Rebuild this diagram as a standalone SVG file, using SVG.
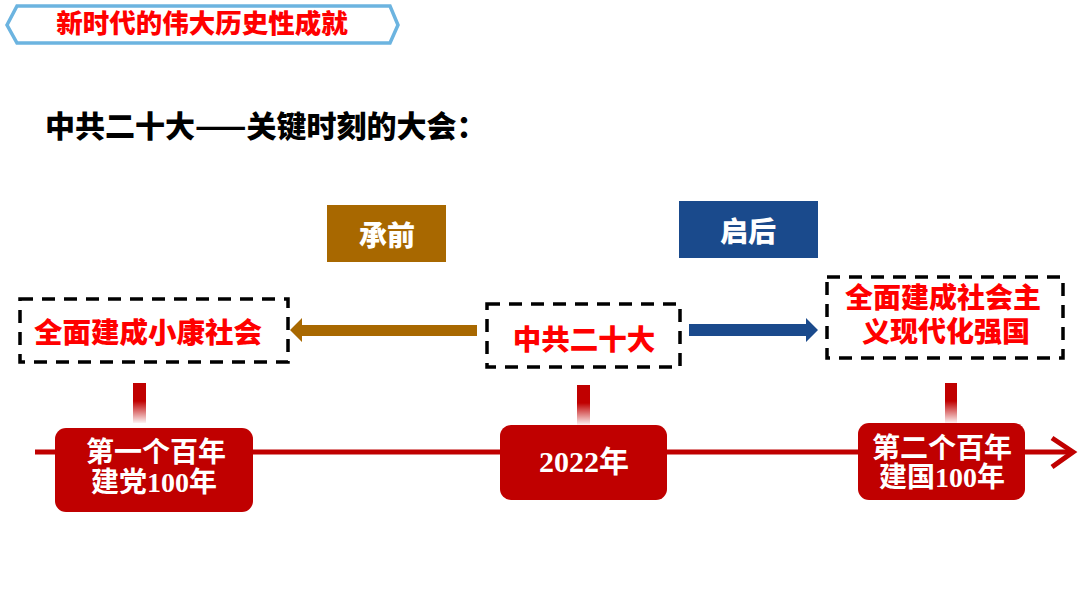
<svg xmlns="http://www.w3.org/2000/svg" width="1080" height="608" viewBox="0 0 1080 608">
<defs>
<linearGradient id="stemGrad" x1="0" y1="0" x2="0" y2="1">
<stop offset="0" stop-color="#c00000"/>
<stop offset="0.45" stop-color="#c00000"/>
<stop offset="1" stop-color="#c00000" stop-opacity="0.05"/>
</linearGradient>
<style>
.cjk{font-family:"Noto Sans CJK SC","Noto Sans",sans-serif;font-weight:900;}
.ser{font-family:"Liberation Serif","Noto Sans CJK SC",serif;font-weight:bold;}
.dash{fill:none;stroke:#000;stroke-width:3.5;stroke-dasharray:13 9;}
.red{fill:#ff0000;}
.wht{fill:#ffffff;}
.rbox{fill:#c00000;}
.stem{fill:url(#stemGrad);}
</style>
</defs>
<rect width="1080" height="608" fill="#ffffff"/>

<g id="title">
<polygon points="7,25 17,6 390,6 398,25 390,43 17,43" fill="#ffffff" stroke="#6cb4e0" stroke-width="3.5"/>
<text class="cjk red" x="202" y="33" font-size="26.5" text-anchor="middle">新时代的伟大历史性成就</text>
</g>

<g id="heading">
<text class="cjk" x="45" y="137" font-size="30" fill="#000">中共二十大——关键时刻的大会：</text>
</g>

<g id="label-chengqian">
<rect x="327" y="205" width="119" height="57" fill="#a86800"/>
<text class="cjk wht" x="387" y="246" font-size="28" text-anchor="middle">承前</text>
</g>

<g id="label-qihou">
<rect x="679" y="201" width="139" height="57" fill="#1a4a8c"/>
<text class="cjk wht" x="748" y="242" font-size="28" text-anchor="middle">启后</text>
</g>

<g id="connectors">
<polygon points="290,330 302,318 302,325 477,325 477,336 302,336 302,342" fill="#a86800"/>
<polygon points="689,324 806,324 806,318 818,330 806,342 806,336 689,336" fill="#1a4a8c"/>
<line x1="35" y1="452" x2="1072" y2="452" stroke="#c00000" stroke-width="5"/>
<polyline points="1052,438 1073,452 1052,467" fill="none" stroke="#c00000" stroke-width="5" stroke-linejoin="miter"/>
<rect class="stem" x="133" y="383" width="13" height="40"/>
<rect class="stem" x="577" y="385" width="13" height="40"/>
<rect class="stem" x="945" y="383" width="12" height="40"/>
</g>

<g id="node-xiaokang">
<rect class="dash" x="20" y="299" width="268" height="63"/>
<text class="cjk red" x="148" y="343" font-size="28.5" text-anchor="middle">全面建成小康社会</text>
</g>

<g id="node-ershida">
<rect class="dash" x="487" y="304" width="193" height="63"/>
<text class="cjk red" x="584" y="350" font-size="28.5" text-anchor="middle">中共二十大</text>
</g>

<g id="node-qiangguo">
<rect class="dash" x="827" y="277" width="236" height="81"/>
<text class="cjk red" x="943" y="308" font-size="28" text-anchor="middle">全面建成社会主</text>
<text class="cjk red" x="946" y="342" font-size="28" text-anchor="middle">义现代化强国</text>
</g>

<g id="node-first">
<rect class="rbox" x="55" y="428" width="198" height="84" rx="11"/>
<text class="ser wht" x="156" y="462" font-size="28" text-anchor="middle">第一个百年</text>
<text class="ser wht" x="154" y="492" font-size="28" text-anchor="middle">建党100年</text>
</g>

<g id="node-2022">
<rect class="rbox" x="500" y="425" width="167" height="75" rx="11"/>
<text class="ser wht" x="584" y="472" font-size="30" text-anchor="middle">2022年</text>
</g>

<g id="node-second">
<rect class="rbox" x="858" y="423" width="167" height="77" rx="11"/>
<text class="ser wht" x="942" y="458" font-size="28" text-anchor="middle">第二个百年</text>
<text class="ser wht" x="942" y="487" font-size="28" text-anchor="middle">建国100年</text>
</g>
</svg>
